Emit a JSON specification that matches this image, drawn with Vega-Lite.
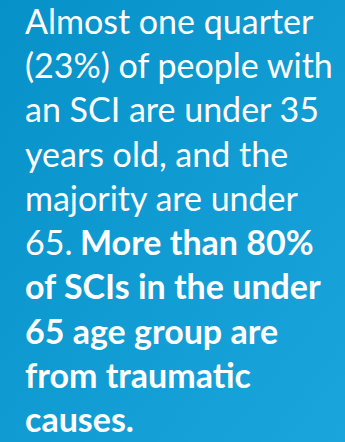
{
  "$schema": "https://vega.github.io/schema/vega-lite/v6.json",
  "width": 345,
  "height": 442,
  "autosize": {"type": "fit", "contains": "padding"},
  "padding": 0,
  "background": "#0d9ad3",
  "config": {"view": {"stroke": null}},
  "data": {
    "values": [
      {"line": 1, "pos": 0, "text": "Almost one quarter", "weight": "normal"},
      {"line": 2, "pos": 0, "text": "(23%) of people with", "weight": "normal"},
      {"line": 3, "pos": 0, "text": "an SCI are under 35", "weight": "normal"},
      {"line": 4, "pos": 0, "text": "years old, and the", "weight": "normal"},
      {"line": 5, "pos": 0, "text": "majority are under", "weight": "normal"},
      {"line": 6, "pos": 0, "text": "65.", "weight": "normal"},
      {"line": 6, "pos": 55, "text": "More than 80%", "weight": "bold"},
      {"line": 7, "pos": 0, "text": "of SCIs in the under", "weight": "bold"},
      {"line": 8, "pos": 0, "text": "65 age group are", "weight": "bold"},
      {"line": 9, "pos": 0, "text": "from traumatic", "weight": "bold"},
      {"line": 10, "pos": 0, "text": "causes.", "weight": "bold"}
    ]
  },
  "encoding": {
    "x": {"field": "pos", "type": "quantitative", "scale": {"domain": [-25, 320], "nice": false, "zero": false}, "axis": null},
    "y": {"field": "line", "type": "quantitative", "scale": {"domain": [0.2311, 10.2265], "reverse": true, "nice": false, "zero": false}, "axis": null},
    "text": {"field": "text"}
  },
  "layer": [
    {
      "mark": {
        "type": "rect",
        "fill": {
          "gradient": "linear",
          "x1": 0, "y1": 0, "x2": 1, "y2": 1,
          "stops": [
            {"offset": 0, "color": "#0691c9"},
            {"offset": 1, "color": "#1ba5dd"}
          ]
        }
      },
      "encoding": {"x": null, "y": null, "text": null}
    },
    {
      "transform": [{"filter": "datum.weight === 'normal'"}],
      "mark": {
        "type": "text",
        "align": "left",
        "baseline": "alphabetic",
        "font": "Lato",
        "fontSize": 34,
        "fontWeight": "normal",
        "color": "#ffffff"
      }
    },
    {
      "transform": [{"filter": "datum.weight === 'bold'"}],
      "mark": {
        "type": "text",
        "align": "left",
        "baseline": "alphabetic",
        "font": "Lato",
        "fontSize": 34,
        "fontWeight": "bold",
        "color": "#ffffff"
      }
    }
  ]
}
